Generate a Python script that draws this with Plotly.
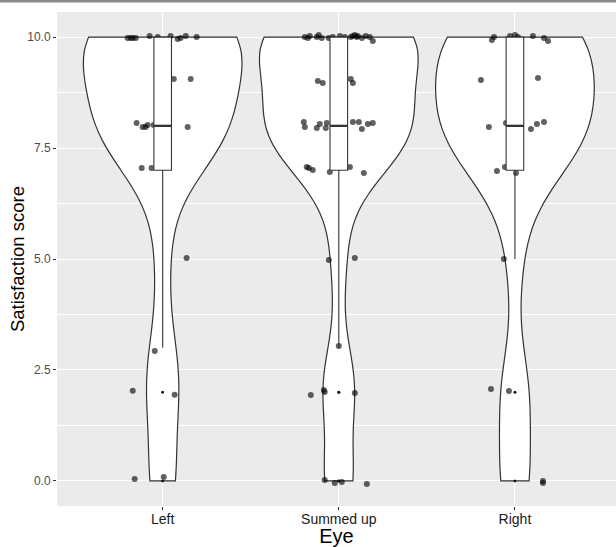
import numpy as np
import plotly.graph_objects as go

# ---------------- data ----------------
categories = ["Left", "Summed up", "Right"]
cat_pos = [1, 2, 3]
y_ticks = [0.0, 2.5, 5.0, 7.5, 10.0]
y_tick_labels = ["0.0", "2.5", "5.0", "7.5", "10.0"]

# jittered points: horizontal offset (category units) and score
# (the last few of each group sit behind the white box and are not visible)
left_dx = [-0.199, -0.182, -0.170, -0.153, -0.074, -0.028, 0.045, 0.085, 0.102, 0.131, 0.193,
           0.063, 0.159,
           -0.148, -0.114, -0.097, -0.085, -0.051, 0.142,
           -0.119, -0.063,
           0.136, -0.045, -0.170, 0.068, -0.159, 0.006,
           -0.020, 0.030]
left_y = [9.977, 9.977, 9.977, 9.977, 10.023, 10.0, 10.023, 9.955, 9.977, 10.023, 10.0,
          9.054, 9.054,
          8.063, 7.973, 7.973, 8.018, 8.018, 7.973,
          7.05, 7.05,
          5.02, 2.93, 2.03, 1.94, 0.045, 0.09,
          8.03, 7.96]

summed_dx = [-0.193, -0.176, -0.165, -0.125, -0.114, -0.097, -0.057, -0.034, 0.006, 0.034,
             0.068, 0.080, 0.091, 0.102, 0.108, 0.131, 0.153, 0.176, 0.193,
             -0.119, -0.091, 0.068, 0.080,
             -0.199, -0.193, -0.125, -0.108, -0.074, -0.068, 0.080, 0.114, 0.131, 0.165, 0.193,
             -0.182, -0.170, -0.148, -0.051, 0.063, 0.142,
             -0.057, 0.091, 0.0,
             -0.159, -0.085, -0.080, 0.091,
             -0.080, -0.023, 0.017, 0.159,
             -0.030, -0.010, 0.015, 0.035, 0.020]
summed_y = [10.0, 9.977, 10.023, 10.0, 10.045, 9.977, 9.977, 10.0, 10.023, 10.0,
            10.0, 10.023, 10.045, 10.0, 10.023, 9.977, 10.023, 10.0, 9.91,
            9.009, 8.964, 9.054, 8.964,
            8.086, 7.973, 7.95, 8.041, 7.95, 8.063, 8.086, 8.086, 7.928, 8.041, 8.063,
            7.072, 7.05, 7.005, 6.96, 7.072, 6.937,
            4.977, 5.023, 3.04,
            1.937, 2.05, 2.005, 1.98,
            0.023, -0.045, -0.023, -0.068,
            8.02, 7.95, 8.06, 7.99, 9.03]

right_dx = [-0.131, -0.119, -0.028, 0.0, 0.017, 0.102, 0.165, 0.188,
            -0.193, 0.131,
            -0.148, -0.051, 0.091, 0.125, 0.165,
            -0.102, -0.057, 0.006,
            -0.063,
            -0.136, -0.034,
            0.159, 0.159,
            -0.015, 0.025, 0.010]
right_y = [9.932, 10.0, 10.023, 10.045, 10.0, 10.023, 9.977, 9.91,
           9.032, 9.077,
           7.973, 8.063, 7.928, 8.041, 8.086,
           6.982, 7.072, 6.937,
           5.0,
           2.072, 2.027,
           0.0, -0.045,
           8.04, 7.97, 9.02]

groups_dx = [left_dx, summed_dx, right_dx]
groups_y = [left_y, summed_y, right_y]

# ---------------- style ----------------
FONT = "Liberation Sans, Arial, Helvetica, sans-serif"
LINE = "#333333"
PANEL = "#EBEBEB"
X_LEFT_MARGIN = 57.4
UNIT_PX = 176.0
W, H = 616, 547
M_T, M_B = 12, 41
BW_ADJUST = 1.0

fig = go.Figure()

def nrd0(v):
    v = np.asarray(v, float)
    sd = np.std(v, ddof=1)
    iqr = np.subtract(*np.percentile(v, [75, 25]))
    lo = min(sd, iqr / 1.34) if iqr > 0 else sd
    return 0.9 * lo * len(v) ** (-0.2)

# violins (true integer scores)
for pos, ys in zip(cat_pos, groups_y):
    scores = np.round(np.array(ys))
    fig.add_trace(go.Violin(
        y=scores, x0=pos, width=0.9, scalegroup="all", scalemode="width",
        spanmode="hard", bandwidth=BW_ADJUST * nrd0(scores), points=False,
        box_visible=False, meanline_visible=False,
        fillcolor="white", line=dict(color=LINE, width=1.2),
        hoverinfo="skip", showlegend=False))

# jittered points
for pos, dx, ys in zip(cat_pos, groups_dx, groups_y):
    fig.add_trace(go.Scatter(
        x=[pos + d for d in dx], y=ys, mode="markers",
        marker=dict(size=6, color="rgba(0,0,0,0.62)", line=dict(width=0)),
        hoverinfo="skip", showlegend=False))

# boxplots on an overlay axis so they sit above the points
for pos, ys in zip(cat_pos, groups_y):
    scores = np.round(np.array(ys))
    fig.add_trace(go.Box(
        y=scores, x0=pos, width=0.1, xaxis="x2", yaxis="y2",
        fillcolor="white", line=dict(color=LINE, width=1.1),
        whiskerwidth=0, boxpoints="outliers", pointpos=0, jitter=0,
        quartilemethod="linear",
        marker=dict(size=2.5, color="#111111", line=dict(width=0)),
        hoverinfo="skip", showlegend=False))
    med = float(np.median(scores))
    fig.add_trace(go.Scatter(
        x=[pos - 0.05, pos + 0.05], y=[med, med], mode="lines",
        xaxis="x2", yaxis="y2", line=dict(color=LINE, width=2.3),
        hoverinfo="skip", showlegend=False))

x_range = [0.4, 0.4 + (W - X_LEFT_MARGIN) / UNIT_PX]
y_range = [-0.565, 10.565]
plot_h = H - M_T - M_B
plot_w = W - X_LEFT_MARGIN

fig.update_layout(
    width=W, height=H,
    margin=dict(l=X_LEFT_MARGIN, r=0, t=M_T, b=M_B, pad=0),
    paper_bgcolor="white", plot_bgcolor=PANEL,
    font=dict(family=FONT),
    showlegend=False,
    violinmode="overlay", boxmode="overlay",
    xaxis=dict(
        range=x_range, tickmode="array", tickvals=cat_pos, ticktext=categories,
        ticks="outside", ticklen=3, tickwidth=1, tickcolor=LINE,
        ticklabelstandoff=-3,
        showgrid=True, gridcolor="white", gridwidth=1.2,
        zeroline=False, showline=False, automargin=False,
        tickfont=dict(size=14, color="#1a1a1a", family=FONT),
        title=dict(text="Eye", font=dict(size=20, color="black", family=FONT), standoff=4),
    ),
    yaxis=dict(
        range=y_range, tickmode="array", tickvals=y_ticks, ticktext=y_tick_labels,
        ticks="outside", ticklen=3, tickwidth=1, tickcolor=LINE,
        showgrid=True, gridcolor="white", gridwidth=1.2,
        minor=dict(tickvals=[1.25, 3.75, 6.25, 8.75], showgrid=True,
                   gridcolor="white", gridwidth=0.6, ticks=""),
        zeroline=False, showline=False, automargin=False,
        tickfont=dict(size=12, color="#4d4d4d", family=FONT),
    ),
    xaxis2=dict(overlaying="x", anchor="y2", range=x_range, visible=False,
                showgrid=False, zeroline=False),
    yaxis2=dict(overlaying="y", anchor="x2", range=y_range, visible=False,
                showgrid=False, zeroline=False),
    annotations=[dict(
        text="Satisfaction score", textangle=-90, showarrow=False,
        xref="paper", yref="paper",
        x=-(X_LEFT_MARGIN - 17.5) / plot_w, y=0.5,
        xanchor="center", yanchor="middle",
        font=dict(size=18.5, color="black", family=FONT))],
)

# thin grey border line at the very top of the image
top = 1 + M_T / plot_h
fig.add_shape(type="rect", xref="paper", yref="paper",
              x0=-X_LEFT_MARGIN / plot_w, x1=1.0,
              y0=top - 2.5 / plot_h, y1=top + 0.01,
              fillcolor="#8a8a8a", line=dict(width=0), layer="above")

fig.write_html("out.html")
